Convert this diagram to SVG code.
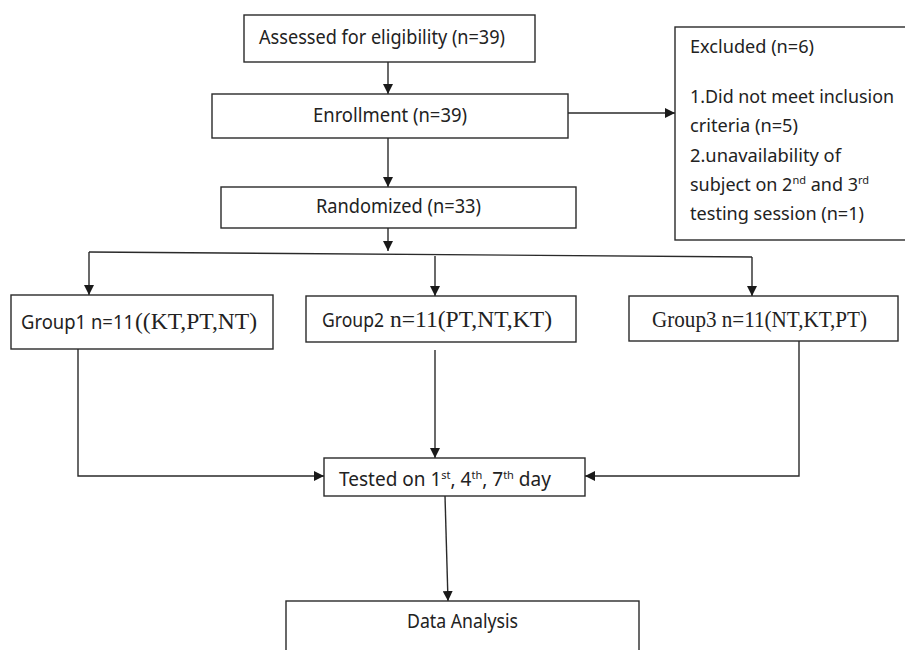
<svg xmlns="http://www.w3.org/2000/svg" width="905" height="650" viewBox="0 0 905 650">
<style>
.box{fill:#fff;stroke:#2a2a2a;stroke-width:1.4}
.t{font-family:"Noto Sans","Open Sans","DejaVu Sans",sans-serif;fill:#222;font-size:19px}
.e{font-size:18px}
.s{font-family:"Liberation Serif","Times New Roman",serif;fill:#222;font-size:24px}
.c{fill:none;stroke:#2a2a2a;stroke-width:1.4}
.sup{font-size:11px}
</style>
<defs>
<marker id="ah" viewBox="0 0 10 10" refX="10" refY="5" markerWidth="10" markerHeight="10" markerUnits="userSpaceOnUse" orient="auto">
<path d="M0,0 L10,5 L0,10 Z" fill="#1a1a1a"/>
</marker>
</defs>
<rect width="905" height="650" fill="#fff"/>
<g id="connectors">
<line class="c" x1="388" y1="62" x2="388" y2="94" marker-end="url(#ah)"/>
<line class="c" x1="568" y1="113" x2="675" y2="113" marker-end="url(#ah)"/>
<line class="c" x1="388" y1="138" x2="388" y2="187" marker-end="url(#ah)"/>
<line class="c" x1="388" y1="228" x2="388" y2="251" marker-end="url(#ah)"/>
<line class="c" x1="89" y1="252" x2="752" y2="257"/>
<line class="c" x1="89" y1="252" x2="89" y2="295" marker-end="url(#ah)"/>
<line class="c" x1="435" y1="256" x2="435" y2="296" marker-end="url(#ah)"/>
<line class="c" x1="752" y1="257" x2="752" y2="296" marker-end="url(#ah)"/>
<polyline class="c" points="78,349 78,476 324,476" marker-end="url(#ah)"/>
<line class="c" x1="435" y1="350" x2="435" y2="458" marker-end="url(#ah)"/>
<polyline class="c" points="799,341 799,476 585,476" marker-end="url(#ah)"/>
<line class="c" x1="445" y1="496" x2="448" y2="601" marker-end="url(#ah)"/>
</g>
<g id="assessed">
<rect class="box" x="244" y="15" width="291" height="47"/>
<text class="t" x="259" y="44" textLength="246" lengthAdjust="spacingAndGlyphs">Assessed for eligibility (n=39)</text>
</g>
<g id="enrollment">
<rect class="box" x="212" y="94" width="356" height="44"/>
<text class="t" x="313" y="122" textLength="154" lengthAdjust="spacingAndGlyphs">Enrollment (n=39)</text>
</g>
<g id="randomized">
<rect class="box" x="221" y="187" width="355" height="41"/>
<text class="t" x="316" y="213" textLength="165" lengthAdjust="spacingAndGlyphs">Randomized (n=33)</text>
</g>
<g id="excluded">
<rect class="box" x="675" y="27" width="240" height="213"/>
<text class="t e" x="690" y="53" textLength="124" lengthAdjust="spacingAndGlyphs">Excluded (n=6)</text>
<text class="t e" x="690" y="103" textLength="204" lengthAdjust="spacingAndGlyphs">1.Did not meet inclusion</text>
<text class="t e" x="690" y="132" textLength="108" lengthAdjust="spacingAndGlyphs">criteria (n=5)</text>
<text class="t e" x="690" y="162" textLength="151" lengthAdjust="spacingAndGlyphs">2.unavailability of</text>
<text class="t e" x="690" y="191">subject on 2<tspan class="sup" baseline-shift="7">nd</tspan> and 3<tspan class="sup" baseline-shift="7">rd</tspan></text>
<text class="t e" x="690" y="220" textLength="174" lengthAdjust="spacingAndGlyphs">testing session (n=1)</text>
</g>
<g id="group1">
<rect class="box" x="11" y="295" width="262" height="54"/>
<text class="t" x="21" y="329" textLength="113" lengthAdjust="spacingAndGlyphs">Group1 n=11</text>
<text class="s" x="135" y="329" textLength="122" lengthAdjust="spacingAndGlyphs">((KT,PT,NT)</text>
</g>
<g id="group2">
<rect class="box" x="306" y="296" width="270" height="46"/>
<text class="t" x="322" y="327" textLength="62" lengthAdjust="spacingAndGlyphs">Group2</text>
<text class="s" x="390" y="327" textLength="162" lengthAdjust="spacingAndGlyphs">n=11(PT,NT,KT)</text>
</g>
<g id="group3">
<rect class="box" x="629" y="296" width="269" height="45"/>
<text class="s" x="652" y="327" textLength="215" lengthAdjust="spacingAndGlyphs">Group3 n=11(NT,KT,PT)</text>
</g>
<g id="tested">
<rect class="box" x="324" y="458" width="261" height="38"/>
<text class="t" x="339" y="486">Tested on 1<tspan class="sup" baseline-shift="7">st</tspan>, 4<tspan class="sup" baseline-shift="7">th</tspan>, 7<tspan class="sup" baseline-shift="7">th</tspan> day</text>
</g>
<g id="analysis">
<rect class="box" x="286" y="601" width="353" height="60"/>
<text class="t" x="407" y="628" textLength="111" lengthAdjust="spacingAndGlyphs">Data Analysis</text>
</g>
</svg>
